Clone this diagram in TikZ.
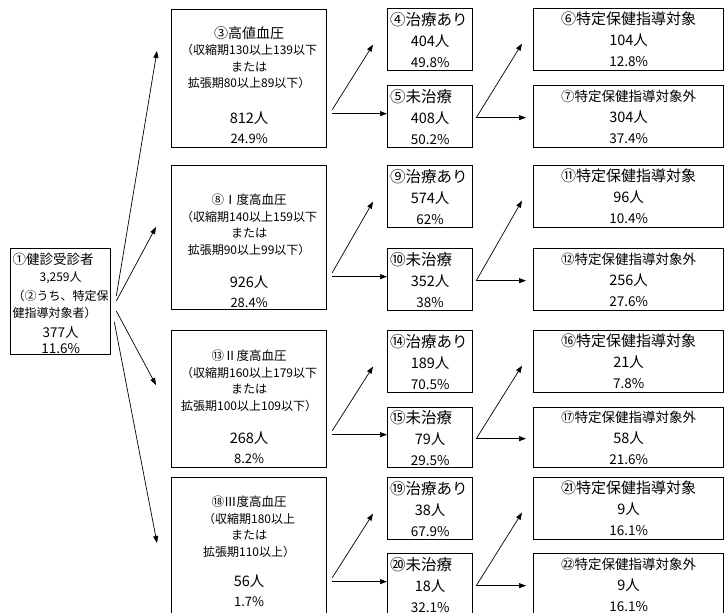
\documentclass[tikz,border=0pt]{standalone}
\usepackage{fontspec}
\setmainfont{Noto Sans CJK JP}
\usepackage{tikz}
\usetikzlibrary{arrows.meta, positioning, calc}
\newcommand{\midashi}{\fontsize{15.5}{21}\selectfont}
\newcommand{\wariai}{\fontsize{13.5}{21}\selectfont}
\newcommand{\ninzu}{\fontsize{14.5}{16}\selectfont}
\tikzset{
  hako/.style={rectangle, draw=black, line width=1.3pt, anchor=north west, inner sep=0pt},
  bun/.style={inner sep=0pt, text width=152pt, align=center, font=\fontsize{12}{16.5}\selectfont},
  chiryo/.style={hako, minimum width=85pt, minimum height=62pt, text width=80pt,
    align=center, font=\fontsize{14.5}{21}\selectfont},
  taisho/.style={hako, minimum width=190pt, minimum height=62pt, text width=184pt,
    align=center, font=\fontsize{14.5}{21}\selectfont},
  yaji/.style={-{Triangle[length=7pt, width=5pt]}, line width=0.7pt},
}

\begin{document}
\begin{tikzpicture}[x=1pt, y=-1pt]
  \useasboundingbox (0,0) rectangle (724,613);

  % jushinsha
  \node[hako, minimum width=100pt, minimum height=106pt] (jushin) at (10,248) {};
  \node[bun, text width=96pt, below=5pt of jushin.north] (jushin-t)
    {\makebox[96pt][l]{\fontsize{13.5}{16}\selectfont ①健診受診者}\\
     3,259人\\[3pt]
     \makebox[96pt][l]{（②うち、特定保}\\
     \makebox[96pt][l]{健指導対象者）}\\[4pt]
     {\fontsize{13.5}{16}\selectfont 377人}\\[-1pt]
     {\fontsize{13.5}{16}\selectfont 11.6\%}};

  % ketsuatsu no kubun
  \node[hako, minimum width=155pt, minimum height=138pt] (kouchi) at (171,9) {};
  \node[bun, below=17pt of kouchi.north] (kouchi-t)
    {{\fontsize{14}{16}\selectfont ③高値血圧}\\
     （収縮期130以上139以下\\ または\\ 拡張期80以上89以下）\\[19pt]
     {\ninzu 812人}\\[4pt] {\fontsize{13}{16}\selectfont 24.9\%}};
  \node[hako, minimum width=155pt, minimum height=144pt] (ichido) at (171,165) {};
  \node[bun, below=29pt of ichido.north] (ichido-t)
    {{\fontsize{12.5}{16}\selectfont ⑧Ⅰ度高血圧}\\
     （収縮期140以上159以下\\ または\\ 拡張期90以上99以下）\\[17pt]
     {\ninzu 926人}\\[3pt] {\fontsize{13}{16}\selectfont 28.4\%}};
  \node[hako, minimum width=155pt, minimum height=137pt] (nido) at (171,330) {};
  \node[bun, below=20pt of nido.north] (nido-t)
    {{\fontsize{12.5}{16}\selectfont ⑬Ⅱ度高血圧}\\
     （収縮期160以上179以下\\ または\\ 拡張期100以上109以下）\\[17pt]
     {\ninzu 268人}\\[3pt] {\fontsize{13}{16}\selectfont 8.2\%}};
  \node[hako, minimum width=155pt, minimum height=138pt] (sando) at (171,477) {};
  \node[bun, below=19pt of sando.north] (sando-t)
    {{\fontsize{12.5}{16}\selectfont ⑱Ⅲ度高血圧}\\
     （収縮期180以上\\ または\\ 拡張期110以上）\\[14pt]
     {\ninzu 56人}\\[3pt] {\fontsize{13}{16}\selectfont 1.7\%}};

  % chiryo
  \node[chiryo] (ari1) at (387,8) {\makebox[80pt][l]{\midashi ④治療あり}\\ 404人\\ {\wariai 49.8\%}};
  \node[chiryo] (mi1) at (387,85) {\makebox[80pt][l]{\midashi ⑤未治療}\\ 408人\\ {\wariai 50.2\%}};
  \node[chiryo] (ari2) at (387,165) {\makebox[80pt][l]{\midashi ⑨治療あり}\\ 574人\\ {\wariai 62\%}};
  \node[chiryo] (mi2) at (387,248) {\makebox[80pt][l]{\midashi ⑩未治療}\\ 352人\\ {\wariai 38\%}};
  \node[chiryo] (ari3) at (387,330) {\makebox[80pt][l]{\midashi ⑭治療あり}\\ 189人\\ {\wariai 70.5\%}};
  \node[chiryo, minimum height=60pt] (mi3) at (387,407) {\makebox[80pt][l]{\midashi ⑮未治療}\\ 79人\\ {\wariai 29.5\%}};
  \node[chiryo] (ari4) at (387,477) {\makebox[80pt][l]{\midashi ⑲治療あり}\\ 38人\\ {\wariai 67.9\%}};
  \node[chiryo] (mi4) at (387,553) {\makebox[80pt][l]{\midashi ⑳未治療}\\ 18人\\ {\wariai 32.1\%}};

  % tokutei hoken shido
  \node[taisho] (tai1) at (533,8) {{\fontsize{15}{21}\selectfont ⑥特定保健指導対象}\\ 104人\\ {\wariai 12.8\%}};
  \node[taisho] (gai1) at (533,85) {{\fontsize{13.5}{21}\selectfont ⑦特定保健指導対象外}\\ 304人\\ {\wariai 37.4\%}};
  \node[taisho] (tai2) at (533,165) {{\fontsize{15}{21}\selectfont ⑪特定保健指導対象}\\ 96人\\ {\wariai 10.4\%}};
  \node[taisho] (gai2) at (533,248) {{\fontsize{13.5}{21}\selectfont ⑫特定保健指導対象外}\\ 256人\\ {\wariai 27.6\%}};
  \node[taisho] (tai3) at (533,330) {{\fontsize{15}{21}\selectfont ⑯特定保健指導対象}\\ 21人\\ {\wariai 7.8\%}};
  \node[taisho, minimum height=60pt] (gai3) at (533,407) {{\fontsize{13.5}{21}\selectfont ⑰特定保健指導対象外}\\ 58人\\ {\wariai 21.6\%}};
  \node[taisho] (tai4) at (533,477) {{\fontsize{15}{21}\selectfont ㉑特定保健指導対象}\\ 9人\\ {\wariai 16.1\%}};
  \node[taisho] (gai4) at (533,553) {{\fontsize{13.5}{21}\selectfont ㉒特定保健指導対象外}\\ 9人\\ {\wariai 16.1\%}};

  % yajirushi
  \draw[yaji] ([shift={(5,48)}]jushin.north east) -- ([shift={(-14,42)}]kouchi.north west);
  \draw[yaji] ([shift={(5,53)}]jushin.north east) -- ([shift={(-15,62)}]ichido.north west);
  \draw[yaji] ([shift={(5,63)}]jushin.north east) -- ([shift={(-15,55)}]nido.north west);
  \draw[yaji] ([shift={(3,74)}]jushin.north east) -- ([shift={(-14,66)}]sando.north west);

  \draw[yaji] ($(kouchi.east |- mi1.west)+(5,-7)$) -- ([shift={(-14,5)}]ari1.west);
  \draw[yaji] ($(kouchi.east |- mi1.west)+(5,-3)$) -- ([shift={(0,-3)}]mi1.west);
  \draw[yaji] ($(ichido.east |- mi2.west)+(5,-7)$) -- ([shift={(-14,5)}]ari2.west);
  \draw[yaji] ($(ichido.east |- mi2.west)+(5,-3)$) -- ([shift={(0,-3)}]mi2.west);
  \draw[yaji] ($(nido.east |- mi3.west)+(5,-7)$) -- ([shift={(-14,5)}]ari3.west);
  \draw[yaji] ($(nido.east |- mi3.west)+(5,-3)$) -- ([shift={(0,-3)}]mi3.west);
  \draw[yaji] ($(sando.east |- mi4.west)+(5,-7)$) -- ([shift={(-14,5)}]ari4.west);
  \draw[yaji] ($(sando.east |- mi4.west)+(5,-3)$) -- ([shift={(0,-3)}]mi4.west);

  \draw[yaji] ([shift={(3,1)}]mi1.east) -- ([shift={(-11,4)}]tai1.west);
  \draw[yaji] ([shift={(3,1)}]mi1.east) -- ([shift={(-7,1)}]gai1.west);
  \draw[yaji] ([shift={(3,1)}]mi2.east) -- ([shift={(-11,4)}]tai2.west);
  \draw[yaji] ([shift={(3,1)}]mi2.east) -- ([shift={(-7,1)}]gai2.west);
  \draw[yaji] ([shift={(3,1)}]mi3.east) -- ([shift={(-11,4)}]tai3.west);
  \draw[yaji] ([shift={(3,1)}]mi3.east) -- ([shift={(-7,1)}]gai3.west);
  \draw[yaji] ([shift={(3,1)}]mi4.east) -- ([shift={(-11,4)}]tai4.west);
  \draw[yaji] ([shift={(3,1)}]mi4.east) -- ([shift={(-7,1)}]gai4.west);
\end{tikzpicture}
\end{document}
